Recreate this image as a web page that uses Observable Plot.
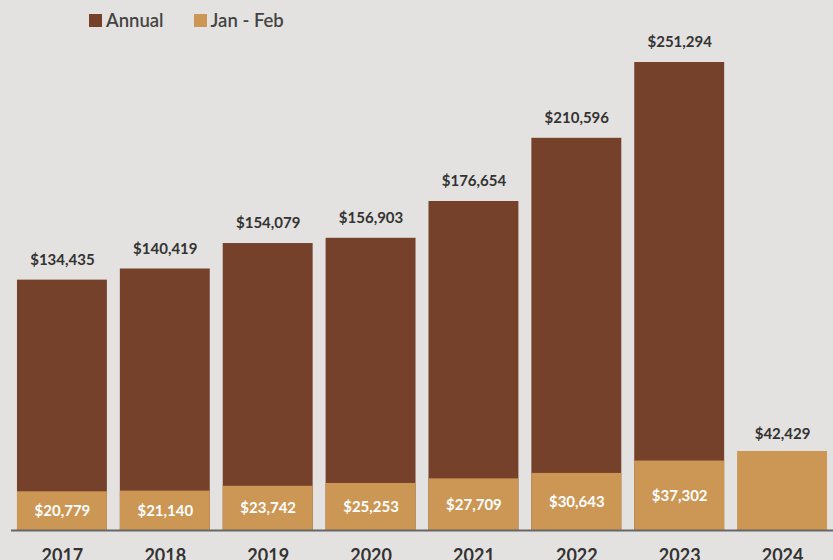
<!DOCTYPE html>
<html>
<head>
<meta charset="utf-8">
<script src="https://cdn.jsdelivr.net/npm/d3@7"></script>
<script src="https://cdn.jsdelivr.net/npm/@observablehq/plot@0.6"></script>
<style>
  html, body { margin: 0; padding: 0; background: #e4e2e0; }
  #wrap { position: relative; width: 833px; height: 560px; overflow: hidden; }
  #legend { position: absolute; left: 89px; top: 9px; display: flex; gap: 0; font-family: Lato, "Open Sans", sans-serif; font-size: 18.5px; font-weight: 600; color: #444; }
  .item { display: flex; align-items: center; margin-right: 30px; }
  .sw { width: 13px; height: 13px; margin-right: 4px; display: inline-block; }
</style>
</head>
<body>
<div id="wrap">
  <div id="legend"></div>
  <div id="chart"></div>
</div>
<script>
const years = ["2017", "2018", "2019", "2020", "2021", "2022", "2023", "2024"];
const annual = [134435, 140419, 154079, 156903, 176654, 210596, 251294, null];
const janFeb = [20779, 21140, 23742, 25253, 27709, 30643, 37302, 42429];
const seriesNames = ["Annual", "Jan - Feb"];
const colors = ["#75412a", "#cc9654"];

const annualData = years.map((y, i) => ({year: y, value: annual[i]})).filter(d => d.value != null);
const janData = years.map((y, i) => ({year: y, value: janFeb[i], hasAnnual: annual[i] != null}));
const fmt = v => "$" + d3.format(",")(v);

const legend = document.getElementById("legend");
seriesNames.forEach((n, i) => {
  const it = document.createElement("div");
  it.className = "item";
  it.innerHTML = `<span class="sw" style="background:${colors[i]}"></span><span>${n}</span>`;
  legend.appendChild(it);
});

const chart = Plot.plot({
  width: 833,
  height: 560,
  marginLeft: 11,
  marginRight: 0,
  marginTop: 0,
  marginBottom: 30,
  style: {background: "transparent", fontFamily: "Lato, 'Open Sans', sans-serif"},
  x: {domain: years, paddingInner: 0.126, paddingOuter: 0.058, round: false, label: null},
  y: {domain: [0, 284584], axis: null},
  marks: [
    Plot.barY(annualData, {x: "year", y: "value", fill: colors[0]}),
    Plot.barY(janData, {x: "year", y: "value", fill: colors[1]}),
    Plot.ruleY([0], {stroke: "#666", strokeWidth: 2}),
    Plot.text(annualData, {x: "year", y: "value", text: d => fmt(d.value), dy: -20, fill: "#333", fontSize: 15, fontWeight: 700, lineAnchor: "middle"}),
    Plot.text(janData.filter(d => d.hasAnnual), {x: "year", y: d => d.value / 2, text: d => fmt(d.value), fill: "#fff", fontSize: 15, fontWeight: 700, lineAnchor: "middle"}),
    Plot.text(janData.filter(d => !d.hasAnnual), {x: "year", y: "value", text: d => fmt(d.value), dy: -17, fill: "#333", fontSize: 15, fontWeight: 700, lineAnchor: "middle"}),
    Plot.axisX({tickSize: 0, tickPadding: 19, fontSize: 18, fontWeight: 700, fill: "#333", label: null})
  ]
});
document.getElementById("chart").appendChild(chart);
</script>
</body>
</html>
